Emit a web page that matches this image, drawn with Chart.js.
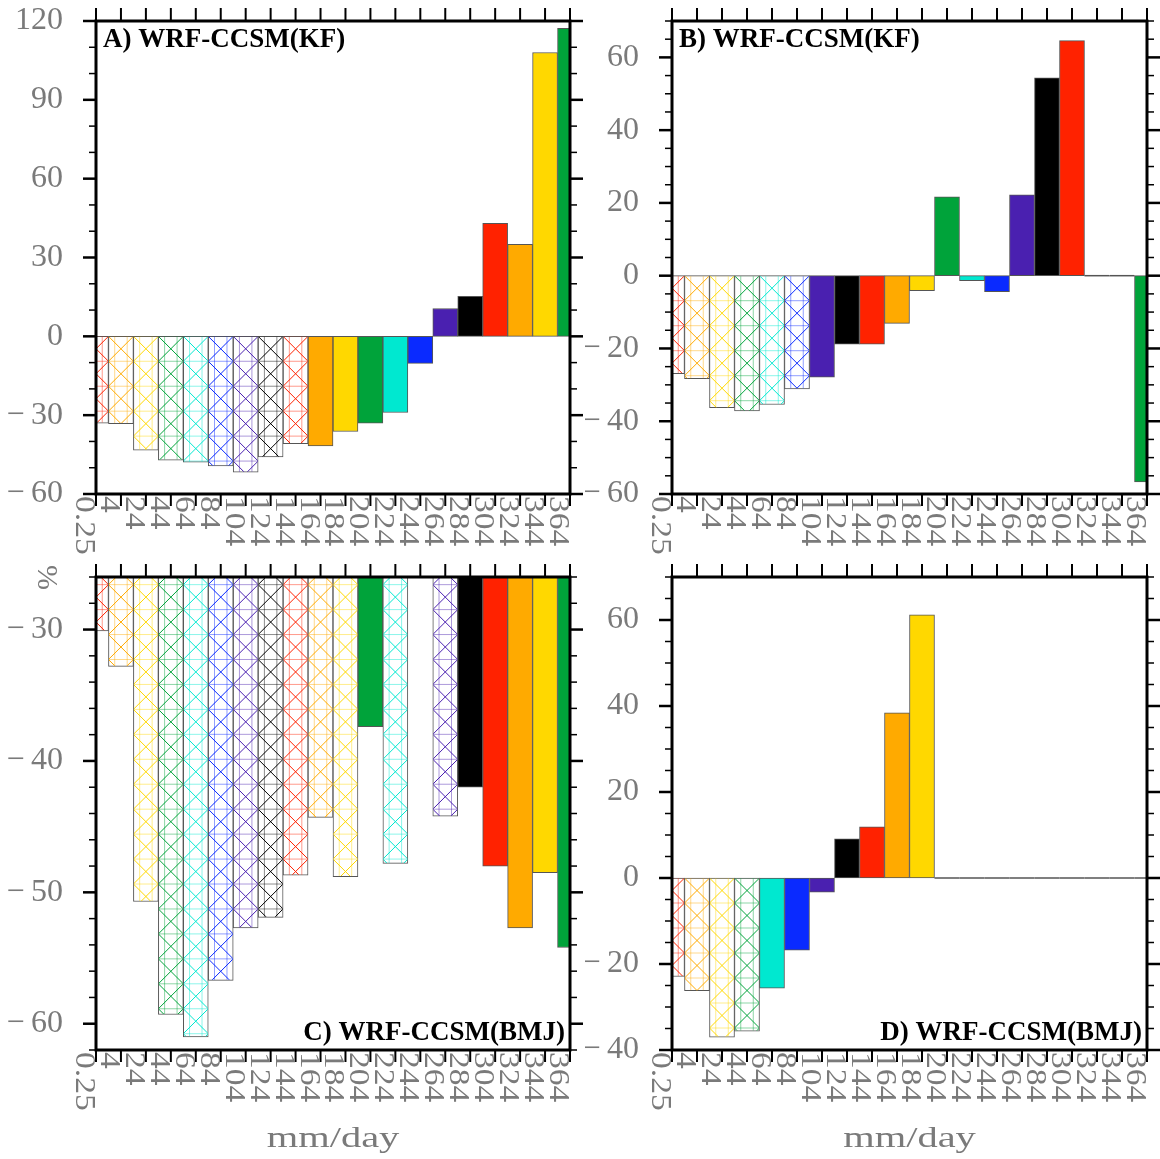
<!DOCTYPE html>
<html>
<head>
<meta charset="utf-8">
<script src="https://cdn.jsdelivr.net/npm/chart.js@4.4.1/dist/chart.umd.min.js"></script>
<style>
    body { margin: 0; background: #fff; }
    #wrap { position: relative; width: 1160px; height: 1159px; background: #fff; }
    #wrap canvas { position: absolute; }
</style>
</head>
<body>
<div id="wrap">
    <canvas id="chartA" width="585" height="562" style="left:0;top:0"></canvas>
    <canvas id="chartB" width="575" height="562" style="left:585px;top:0"></canvas>
    <canvas id="chartC" width="585" height="597" style="left:0;top:562px"></canvas>
    <canvas id="chartD" width="575" height="597" style="left:585px;top:562px"></canvas>
</div>
<script>
// bin edges (mm/day)
const bins = ['0.25', '4', '24', '44', '64', '84', '104', '124', '144', '164',
              '184', '204', '224', '244', '264', '284', '304', '324', '344', '364'];

// % change per bin
const valuesA = [-33, -33.2, -43.3, -47.1, -47.9, -49.3, -51.7, -45.9, -40.8, -41.7,
                 -36.2, -33.0, -29.0, -10.3, 10.6, 15.2, 43.0, 35.0, 108, 117.2];
const valuesB = [-26.9, -28.3, -36.3, -37.2, -35.4, -31.1, -27.9, -18.8, -18.8, -13.1,
                 -4.1, 21.7, -1.4, -4.4, 22.2, 54.4, 64.6, 0, 0, -56.7];
const valuesC = [-30.1, -32.8, -50.7, -59.3, -61.0, -56.7, -52.7, -51.9, -48.7, -44.3,
                 -48.8, -37.4, -47.8, null, -44.2, -42.0, -48.0, -52.7, -48.5, -54.2];
const valuesD = [-22.9, -26.2, -37.0, -35.6, -25.6, -16.8, -3.3, 9.1, 11.9, 38.4,
                 61.2, 0, 0, 0, 0, 0, 0, 0, 0, 0];

// hatched bins
const hatchA = [1, 1, 1, 1, 1, 1, 1, 1, 1, 0, 0, 0, 0, 0, 0, 0, 0, 0, 0, 0];
const hatchB = [1, 1, 1, 1, 1, 1, 0, 0, 0, 0, 0, 0, 0, 0, 0, 0, 0, 0, 0, 0];
const hatchC = [1, 1, 1, 1, 1, 1, 1, 1, 1, 1, 1, 0, 1, 1, 1, 0, 0, 0, 0, 0];
const hatchD = [1, 1, 1, 1, 0, 0, 0, 0, 0, 0, 0, 0, 0, 0, 0, 0, 0, 0, 0, 0];

// y tick labels
const ticksA = [-60, -30, 0, 30, 60, 90, 120];
const ticksB = [-60, -40, -20, 0, 20, 40, 60];
const ticksC = [-60, -50, -40, -30];
const ticksD = [-40, -20, 0, 20, 40, 60];

const palette = ['#ff2200', '#ffaa00', '#ffd800', '#00a33a', '#00e8d0', '#0a2aff', '#4a20b0', '#000000'];
const labelFont = '"Liberation Serif", serif';
const labelColor = '#7a7a7a';

function line(ctx, x1, y1, x2, y2) {
    ctx.beginPath();
    ctx.moveTo(x1, y1);
    ctx.lineTo(x2, y2);
    ctx.stroke();
}

// cross hatch inside a bar
function hatchBar(ctx, area, bar, color, y0) {
    const w = bar.width;
    const left = bar.x - w / 2;
    const y1 = Math.min(bar.y, bar.base), y2 = Math.max(bar.y, bar.base);
    const cl = Math.max(left, area.left), cr = Math.min(left + w, area.right);
    const ct = Math.max(y1, area.top), cb = Math.min(y2, area.bottom);
    if (cb <= ct || cr <= cl) return;
    ctx.save();
    ctx.beginPath();
    ctx.rect(cl + 0.5, ct + 0.5, cr - cl - 1, cb - ct - 1);
    ctx.clip();
    ctx.strokeStyle = color;
    const k0 = Math.floor((ct - y0) / w) - 1, k1 = Math.ceil((cb - y0) / w) + 1;
    ctx.globalAlpha = 0.45;
    ctx.lineWidth = 1;
    for (let k = k0; k <= k1; k++) {
        line(ctx, left, y0 + k * w, left + w, y0 + k * w);
    }
    line(ctx, left + w * 0.25, ct, left + w * 0.25, cb);
    line(ctx, left + w * 0.75, ct, left + w * 0.75, cb);
    ctx.globalAlpha = 1;
    for (let k = k0; k <= k1; k++) {
        line(ctx, left, y0 + k * w, left + w, y0 + (k + 1) * w);
        line(ctx, left + w, y0 + k * w, left, y0 + (k + 1) * w);
    }
    ctx.restore();
}

const framePlugin = {
    id: 'frame',
    afterDatasetsDraw(chart, args, opts) {
        const ctx = chart.ctx, area = chart.chartArea;
        const y0 = chart.scales.y.getPixelForValue(0);
        const vals = chart.data.datasets[0].data;
        chart.getDatasetMeta(0).data.forEach((bar, i) => {
            if (vals[i] === null || isNaN(bar.x)) return;
            if (opts.hatch[i]) hatchBar(ctx, area, bar, palette[i % 8], y0);
            if (vals[i] === 0) {
                ctx.save();
                ctx.strokeStyle = '#555';
                ctx.lineWidth = 1.5;
                line(ctx, Math.max(bar.x - bar.width / 2, area.left), y0,
                     Math.min(bar.x + bar.width / 2, area.right), y0);
                ctx.restore();
            }
        });
    },
    afterDraw(chart, args, opts) {
        const ctx = chart.ctx, area = chart.chartArea;
        const xs = chart.scales.x, ys = chart.scales.y;
        ctx.save();
        ctx.strokeStyle = '#000';

        // minor y ticks
        ctx.lineWidth = 1.5;
        for (let v = ys.min; v <= ys.max + 1e-6; v += opts.minor) {
            if (opts.major.includes(v)) continue;
            const py = ys.getPixelForValue(v);
            line(ctx, area.left - 7, py, area.left, py);
            line(ctx, area.right, py, area.right + 7, py);
        }
        // major y ticks
        ctx.lineWidth = 2.5;
        opts.major.forEach(v => {
            const py = ys.getPixelForValue(v);
            line(ctx, area.left - 13, py, area.left, py);
            line(ctx, area.right, py, area.right + 13, py);
        });
        // x ticks top and bottom
        ctx.lineWidth = 2;
        xs.ticks.forEach((t, i) => {
            const px = xs.getPixelForTick(i);
            line(ctx, px, area.top - 13, px, area.top);
            line(ctx, px, area.bottom, px, area.bottom + 12);
        });
        // frame
        ctx.lineWidth = 3;
        ctx.strokeRect(area.left, area.top, area.width, area.height);

        // rotated bin labels
        ctx.fillStyle = labelColor;
        ctx.font = '30px ' + labelFont;
        ctx.textAlign = 'left';
        ctx.textBaseline = 'alphabetic';
        xs.ticks.forEach((t, i) => {
            const px = xs.getPixelForTick(i);
            ctx.save();
            ctx.translate(px, area.bottom + 2);
            ctx.rotate(Math.PI / 2);
            ctx.scale(1.12, 1);
            ctx.fillText(xs.getLabelForValue(t.value), 0, 20);
            ctx.restore();
        });

        // panel title
        ctx.fillStyle = '#000';
        ctx.font = 'bold 27px ' + labelFont;
        if (opts.titleAt === 'top') {
            ctx.textAlign = 'left';
            ctx.fillText(opts.title, area.left + 7, area.top + 26);
        } else {
            ctx.textAlign = 'right';
            ctx.fillText(opts.title, area.right - 5, area.bottom - 10);
        }

        // axis titles
        if (opts.unit) {
            ctx.fillStyle = labelColor;
            ctx.font = '30px ' + labelFont;
            ctx.textAlign = 'center';
            ctx.save();
            ctx.translate((area.left + area.right) / 2, 585);
            ctx.scale(1.35, 1);
            ctx.fillText('mm/day', 0, 0);
            ctx.restore();
        }
        if (opts.percent) {
            ctx.fillStyle = labelColor;
            ctx.font = '30px ' + labelFont;
            ctx.save();
            ctx.translate(38, 3);
            ctx.rotate(Math.PI / 2);
            ctx.textAlign = 'left';
            ctx.fillText('%', 0, 0);
            ctx.restore();
        }
        ctx.restore();
    }
};

function makePanel(id, values, hatch, yMin, yMax, majors, minor, title, titleAt, box) {
    const ctx = document.getElementById(id).getContext('2d');
    return new Chart(ctx, {
        type: 'bar',
        data: {
            labels: bins,
            datasets: [{
                data: values,
                backgroundColor: values.map((v, i) => hatch[i] ? '#ffffff' : palette[i % 8]),
                borderColor: '#555555',
                borderWidth: 1,
                borderSkipped: false,
                barPercentage: 1,
                categoryPercentage: 1,
                clip: 0
            }]
        },
        options: {
            responsive: false,
            animation: false,
            layout: { padding: { left: 0, top: box.top, right: box.right, bottom: 0 } },
            plugins: {
                legend: { display: false },
                tooltip: { enabled: false },
                frame: { hatch: hatch, major: majors, minor: minor, title: title, titleAt: titleAt,
                         unit: titleAt === 'bottom', percent: id === 'chartC' }
            },
            scales: {
                x: {
                    type: 'category',
                    offset: false,
                    grid: { display: false, drawTicks: false, offset: false },
                    border: { display: false },
                    ticks: { display: false },
                    afterFit: s => {
                        s.height = box.bottom;
                        s.paddingLeft = 0;
                        s.paddingRight = 0;
                    }
                },
                y: {
                    min: yMin,
                    max: yMax,
                    grid: { display: false, drawTicks: false },
                    border: { display: false },
                    afterBuildTicks: s => { s.ticks = majors.map(v => ({ value: v })); },
                    afterFit: s => {
                        s.width = box.left;
                        s.paddingTop = 0;
                        s.paddingBottom = 0;
                    },
                    ticks: {
                        color: labelColor,
                        font: { family: labelFont, size: 32 },
                        padding: 33,
                        callback: v => String(v).replace('-', '\u2212\u2009')
                    }
                }
            }
        },
        plugins: [framePlugin]
    });
}

makePanel('chartA', valuesA, hatchA, -60, 120, ticksA, 10, 'A) WRF-CCSM(KF)', 'top',
          { left: 96, top: 21, right: 15, bottom: 68 });
makePanel('chartB', valuesB, hatchB, -60, 70, ticksB, 5, 'B) WRF-CCSM(KF)', 'top',
          { left: 87, top: 21, right: 13, bottom: 68 });
makePanel('chartC', valuesC, hatchC, -62, -26, ticksC, 2, 'C) WRF-CCSM(BMJ)', 'bottom',
          { left: 96, top: 15, right: 15, bottom: 109 });
makePanel('chartD', valuesD, hatchD, -40, 70, ticksD, 5, 'D) WRF-CCSM(BMJ)', 'bottom',
          { left: 87, top: 15, right: 13, bottom: 109 });
</script>
</body>
</html>
